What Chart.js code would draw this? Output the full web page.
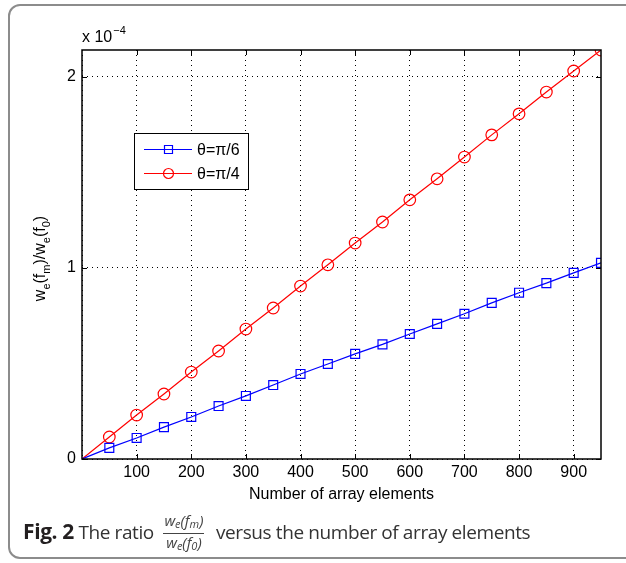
<!DOCTYPE html>
<html>
<head>
<meta charset="utf-8">
<script src="https://cdn.jsdelivr.net/npm/chart.js@4"></script>
<style>
  html, body { margin: 0; padding: 0; background: #fff; }
  #wrap { position: relative; width: 626px; height: 563px; overflow: hidden; }
  #c { position: absolute; left: 0; top: 0; }
  #frame {
    position: absolute; left: 8px; top: 4px; width: 700px; height: 555px;
    border: 2px solid #8c8c8c; border-radius: 12px; box-sizing: border-box;
  }
  #caption {
    position: absolute; left: 23px; top: 512px;
    font-family: "Open Sans", "Noto Sans", sans-serif; font-size: 19px; color: #333;
    white-space: nowrap; letter-spacing: -0.4px;
  }
  #caption b { font-weight: 700; font-size: 21px; color: #231f20; letter-spacing: -0.4px; }
  .frac { display: inline-block; vertical-align: middle; text-align: center; margin: 0 7px 0 5px;
    font-size: 15px; font-style: italic; color: #444; line-height: 16px; letter-spacing: 0; }
  .frac span { display: block; padding: 0 1px 1px; }
  .frac .num { border-bottom: 1px solid #444; }
  .frac sub { font-size: 11px; vertical-align: -2px; }
</style>
</head>
<body>
<div id="wrap">
  <canvas id="c" width="626" height="563"></canvas>
  <div id="frame"></div>
  <div id="caption"><b>Fig. 2</b> The ratio <span class="frac"><span class="num">w<sub>e</sub>(f<sub>m</sub>)</span><span>w<sub>e</sub>(f<sub>0</sub>)</span></span> versus the number of array elements</div>
</div>
<script>
// number of array elements (first point is the origin, drawn without marker)
const elements = [0, 50, 100, 150, 200, 250, 300, 350, 400, 450, 500, 550, 600, 650, 700, 750, 800, 850, 900, 950];
// ratio values, in units of 1e-4
const ratioPi6 = [0, 0.058, 0.11, 0.167, 0.22, 0.277, 0.33, 0.387, 0.445, 0.497, 0.55, 0.60, 0.654, 0.707, 0.76, 0.817, 0.87, 0.92, 0.974, 1.026];
const ratioPi4 = [0, 0.115, 0.23, 0.34, 0.455, 0.565, 0.68, 0.79, 0.905, 1.016, 1.13, 1.24, 1.356, 1.466, 1.58, 1.696, 1.806, 1.92, 2.03, 2.14];
const seriesLabels = ['θ=π/6', 'θ=π/4'];
const xTicks = [100, 200, 300, 400, 500, 600, 700, 800, 900];
const yTicks = [0, 1, 2];

const FONT = '"Liberation Sans", Arial, sans-serif';

const toPoints = (ys) => elements.map((x, i) => ({ x, y: ys[i] }));

// MATLAB-like box, inward ticks, titles and legend
const matlabDecor = {
  id: 'matlabDecor',
  afterDraw(chart) {
    const { ctx, chartArea: a, scales: { x, y } } = chart;
    ctx.save();
    ctx.strokeStyle = '#000';
    ctx.lineWidth = 1.5;
    ctx.strokeRect(a.left, a.top, a.right - a.left, a.bottom - a.top);

    ctx.lineWidth = 1;
    ctx.beginPath();
    xTicks.forEach(v => {
      const px = Math.round(x.getPixelForValue(v)) + 0.5;
      ctx.moveTo(px, a.bottom); ctx.lineTo(px, a.bottom - 5);
      ctx.moveTo(px, a.top); ctx.lineTo(px, a.top + 5);
    });
    yTicks.forEach(v => {
      const py = Math.round(y.getPixelForValue(v)) + 0.5;
      ctx.moveTo(a.left, py); ctx.lineTo(a.left + 5, py);
      ctx.moveTo(a.right, py); ctx.lineTo(a.right - 5, py);
    });
    ctx.stroke();

    // exponent label
    ctx.fillStyle = '#000';
    ctx.textBaseline = 'alphabetic';
    ctx.textAlign = 'left';
    ctx.font = '16px ' + FONT;
    ctx.fillText('x 10', a.left, 42);
    const w10 = ctx.measureText('x 10').width;
    ctx.font = '11px ' + FONT;
    ctx.fillText('\u22124', a.left + w10 + 1, 34);

    // x title
    ctx.font = '16px ' + FONT;
    ctx.textAlign = 'center';
    ctx.fillText('Number of array elements', (a.left + a.right) / 2, 499);

    // y title with subscripts
    const parts = [['w', 0], ['e', 1], ['(f', 0], ['m', 1], [')/w', 0], ['e', 1], ['(f', 0], ['0', 1], [')', 0]];
    const fontOf = (sub) => (sub ? '11px ' : '16px ') + FONT;
    let total = 0;
    parts.forEach(([t, s]) => { ctx.font = fontOf(s); total += ctx.measureText(t).width; });
    ctx.translate(45, (a.top + a.bottom) / 2 + 4);
    ctx.rotate(-Math.PI / 2);
    ctx.textAlign = 'left';
    let cx = -total / 2;
    parts.forEach(([t, s]) => {
      ctx.font = fontOf(s);
      ctx.fillText(t, cx, s ? 5 : 0);
      cx += ctx.measureText(t).width;
    });
    ctx.setTransform(1, 0, 0, 1, 0, 0);

    // legend box
    const lx = 134, ly = 133, lw = 114, lh = 56;
    ctx.fillStyle = '#fff';
    ctx.fillRect(lx, ly, lw, lh);
    ctx.strokeStyle = '#000';
    ctx.lineWidth = 1;
    ctx.strokeRect(lx + 0.5, ly + 0.5, lw, lh);
    chart.data.datasets.forEach((ds, i) => {
      const ry = ly + 16.5 + i * 24;
      const mx = lx + 34.5;
      ctx.strokeStyle = ds.borderColor;
      ctx.lineWidth = 1.2;
      ctx.beginPath();
      ctx.moveTo(lx + 10, ry); ctx.lineTo(lx + 58, ry);
      ctx.stroke();
      ctx.beginPath();
      if (ds.pointStyle === 'rect') {
        ctx.rect(mx - 4, ry - 4, 8, 8);
      } else {
        ctx.arc(mx, ry, 5, 0, Math.PI * 2);
      }
      ctx.stroke();
      ctx.fillStyle = '#000';
      ctx.font = '16px ' + FONT;
      ctx.textAlign = 'left';
      ctx.textBaseline = 'middle';
      ctx.fillText(ds.label, lx + 63, ry + 1);
    });
    ctx.restore();
  }
};

new Chart(document.getElementById('c'), {
  type: 'line',
  data: {
    datasets: [
      {
        label: seriesLabels[0],
        data: toPoints(ratioPi6),
        borderColor: '#0000ff',
        borderWidth: 1.2,
        pointStyle: 'rect',
        pointRadius: (c) => (c.dataIndex === 0 ? 0 : 6.3),
        pointBorderColor: '#0000ff',
        pointBackgroundColor: 'rgba(0,0,0,0)',
        pointBorderWidth: 1.2,
        tension: 0,
      },
      {
        label: seriesLabels[1],
        data: toPoints(ratioPi4),
        borderColor: '#ff0000',
        borderWidth: 1.2,
        pointStyle: 'circle',
        pointRadius: (c) => (c.dataIndex === 0 ? 0 : 5.8),
        pointBorderColor: '#ff0000',
        pointBackgroundColor: 'rgba(0,0,0,0)',
        pointBorderWidth: 1.2,
        tension: 0,
      },
    ],
  },
  options: {
    responsive: false,
    animation: false,
    devicePixelRatio: 1,
    layout: { padding: { left: 42, right: 25, top: 50, bottom: 80 } },
    plugins: { legend: { display: false }, tooltip: { enabled: false } },
    scales: {
      x: {
        type: 'linear',
        min: 0,
        max: 950,
        afterFit: (s) => { s.height = 24; },
        afterBuildTicks: (s) => { s.ticks = [0, ...xTicks].map(v => ({ value: v })); },
        ticks: {
          includeBounds: false,
          padding: 4,
          color: '#000',
          font: { family: FONT, size: 16 },
          callback: (v) => (v === 0 ? '' : v),
        },
        grid: { color: '#000', lineWidth: 1, drawTicks: false },
        border: { display: false, dash: [1, 4] },
      },
      y: {
        type: 'linear',
        min: 0,
        max: 2.14,
        afterFit: (s) => { s.width = 40; },
        afterBuildTicks: (s) => { s.ticks = yTicks.map(v => ({ value: v })); },
        ticks: {
          includeBounds: false,
          padding: 6,
          color: '#000',
          font: { family: FONT, size: 16 },
        },
        grid: { color: '#000', lineWidth: 1, drawTicks: false },
        border: { display: false, dash: [1, 4] },
      },
    },
  },
  plugins: [matlabDecor],
});
</script>
</body>
</html>
